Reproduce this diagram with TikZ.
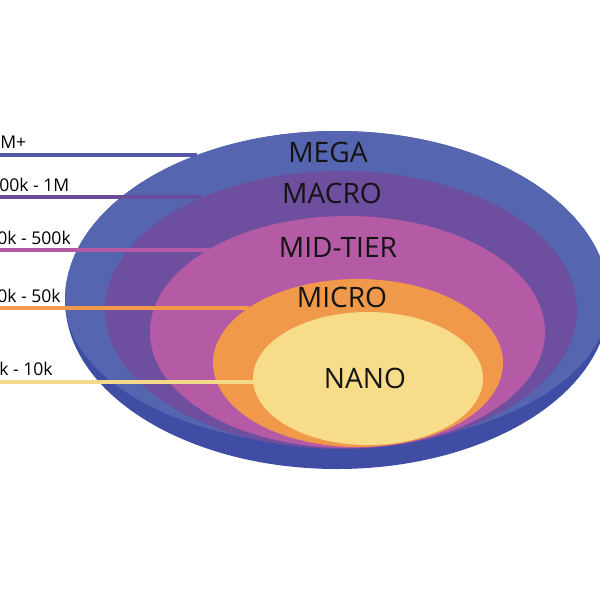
\documentclass[tikz,border=0pt]{standalone}
\usepackage{fontspec}
\setmainfont{Open Sans}
\begin{document}
\begin{tikzpicture}[x=0.02cm,y=-0.02cm,
  tier/.style={font=\fontsize{16}{18}\selectfont, text=black!92, inner sep=0, anchor=base},
  lab/.style={font=\fontsize{10}{12}\selectfont, text=black, inner sep=0, anchor=base west},
  lead/.style={line width=1.8pt}]
\definecolor{rimC}{HTML}{3F4DA5}
\definecolor{megaC}{HTML}{5565B0}
\definecolor{macroC}{HTML}{6E4E9E}
\definecolor{midC}{HTML}{B55BA6}
\definecolor{microC}{HTML}{F0994A}
\definecolor{nanoC}{HTML}{F7DD8A}
\definecolor{l1C}{HTML}{5357A6}
\definecolor{l2C}{HTML}{6A4C9C}
\definecolor{l3C}{HTML}{B45AA5}
\definecolor{l4C}{HTML}{F09A4A}
\definecolor{l5C}{HTML}{F5D98A}
\clip (0,0) rectangle (600,600);
\fill[white] (0,0) rectangle (600,600);
% bowl rim and top surface
\fill[rimC] (65,300) arc[start angle=180,end angle=360,x radius=272,y radius=169]
  arc[start angle=0,end angle=180,x radius=272,y radius=169] -- cycle;
\fill[megaC] (65,300) arc[start angle=180,end angle=360,x radius=272,y radius=169]
  arc[start angle=0,end angle=180,x radius=272,y radius=146] -- cycle;
% inner tiers
\fill[macroC] (341,310) ellipse[x radius=236,y radius=139];
\fill[midC] (347.5,332) ellipse[x radius=197.5,y radius=116];
\fill[microC] (358,363) ellipse[x radius=145,y radius=84];
\fill[nanoC] (368,378.5) ellipse[x radius=115,y radius=66.5];
% leader lines
\coordinate (s1) at (-5,155); \coordinate (e1) at (197,155);
\coordinate (s2) at (-5,197); \coordinate (e2) at (203,197);
\coordinate (s3) at (-5,250); \coordinate (e3) at (209,250);
\coordinate (s4) at (-5,308); \coordinate (e4) at (249,308);
\coordinate (s5) at (-5,382); \coordinate (e5) at (254,382);
\draw[lead,l1C] (s1) -- (e1);
\draw[lead,l2C] (s2) -- (e2);
\draw[lead,l3C] (s3) -- (e3);
\draw[lead,l4C] (s4) -- (e4);
\draw[lead,l5C] (s5) -- (e5);
% range labels
\node[lab] (r1) at (0,148) {M+};
\node[lab] (r2) at (-1,191) {00k - 1M};
\node[lab] (r3) at (-3,244) {0k - 500k};
\node[lab] (r4) at (-3,302) {0k - 50k};
\node[lab] (r5) at (-1,375) {k - 10k};
% tier names
\node[tier] (mega) at (328,162) {MEGA};
\node[tier] (macro) at (332,203) {MACRO};
\node[tier] (mid) at (338,257) {MID-TIER};
\node[tier] (micro) at (342,307) {MICRO};
\node[tier] (nano) at (365,388) {NANO};
\end{tikzpicture}
\end{document}
